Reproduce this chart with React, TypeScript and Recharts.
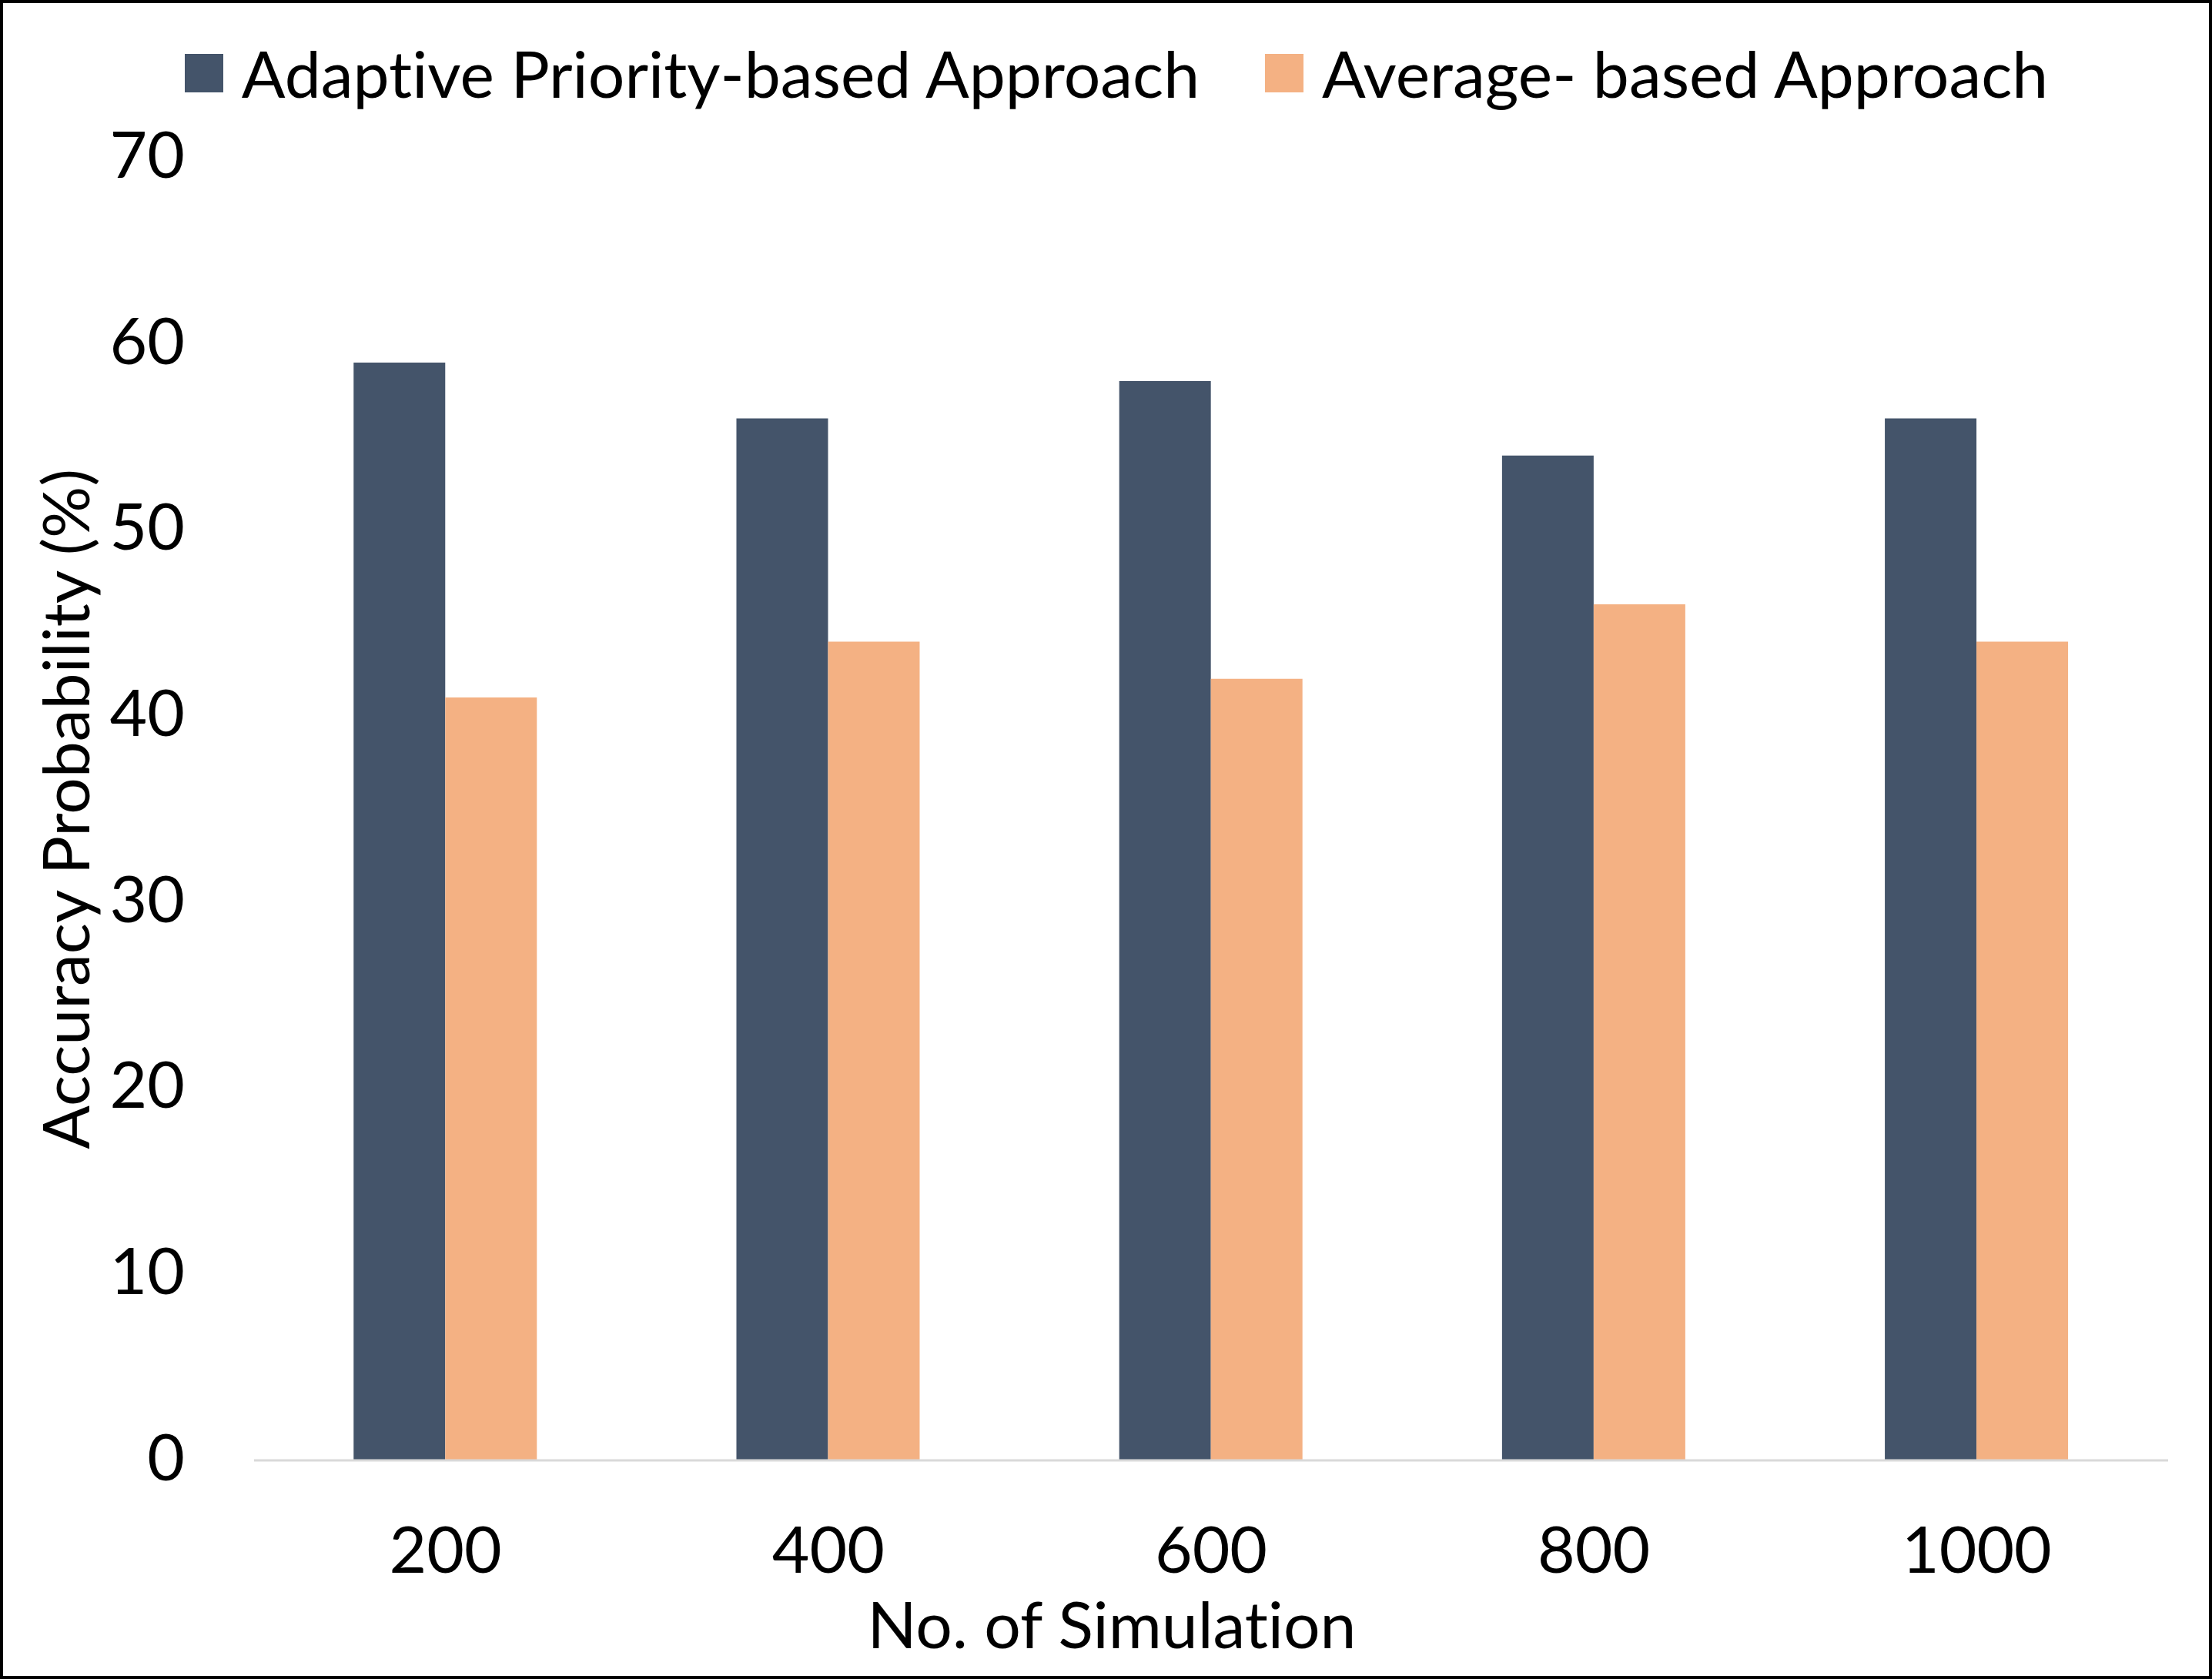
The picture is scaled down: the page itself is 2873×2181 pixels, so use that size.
import { BarChart, Bar, XAxis, YAxis, Legend } from "recharts"

const simulations = ["200", "400", "600", "800", "1000"]
const adaptiveValues = [59, 56, 58, 54, 56]
const averageValues = [41, 44, 42, 46, 44]
const yTicks = [0, 10, 20, 30, 40, 50, 60, 70]

const SERIES = [
  { key: "adaptive", name: "Adaptive Priority-based Approach", color: "#44546A" },
  { key: "average", name: "Average- based Approach", color: "#F4B183" },
]

const FONT = "Lato, 'Open Sans', sans-serif"
const FONT_SIZE = 84

const data = simulations.map((sim, i) => ({
  sim,
  adaptive: adaptiveValues[i],
  average: averageValues[i],
}))

function LegendContent() {
  return (
    <div
      style={{
        height: 190,
        display: "flex",
        alignItems: "center",
        justifyContent: "center",
        gap: 85,
        fontFamily: FONT,
        fontSize: FONT_SIZE,
        fontVariantLigatures: "none",
        color: "#000",
        paddingLeft: 27,
        boxSizing: "border-box",
      }}
    >
      {SERIES.map((s) => (
        <div key={s.key} style={{ display: "flex", alignItems: "center", gap: 24 }}>
          <span style={{ display: "inline-block", width: 50, height: 50, background: s.color }} />
          <span style={{ lineHeight: 1 }}>{s.name}</span>
        </div>
      ))}
    </div>
  )
}

export default function App() {
  return (
    <div
      style={{
        width: 2873,
        height: 2181,
        position: "relative",
        background: "#fff",
        outline: "4px solid #000",
        outlineOffset: -4,
        fontVariantLigatures: "none",
      }}
    >
      <style>{`body{margin:0;overflow:hidden} svg text{font-variant-ligatures:none}`}</style>
      <BarChart
        width={2873}
        height={2181}
        data={data}
        margin={{ top: 15, right: 57, bottom: 0, left: 0 }}
        barCategoryGap="26%"
        barGap={0}
      >
        <Legend
          verticalAlign="top"
          align="center"
          content={<LegendContent />}
          wrapperStyle={{ top: 0, left: 0, width: 2873 }}
        />
        <XAxis
          dataKey="sim"
          height={284}
          stroke="#D9D9D9"
          strokeWidth={3}
          tickLine={false}
          tickMargin={80}
          tick={{ fill: "#000", fontSize: FONT_SIZE, fontFamily: FONT }}
          label={{
            value: "No. of Simulation",
            position: "insideBottom",
            offset: 40,
            dx: -129,
            fill: "#000",
            fontSize: FONT_SIZE,
            fontFamily: FONT,
          }}
        />
        <YAxis
          width={330}
          domain={[0, 70]}
          ticks={yTicks}
          axisLine={false}
          tickLine={false}
          tickMargin={84}
          tick={{ fill: "#000", fontSize: FONT_SIZE, fontFamily: FONT, dy: -4 }}
          label={{
            value: "Accuracy Probability (%)",
            angle: -90,
            position: "insideLeft",
            offset: 86,
            textAnchor: "middle",
            fill: "#000",
            fontSize: FONT_SIZE,
            fontFamily: FONT,
          }}
        />
        {SERIES.map((s) => (
          <Bar key={s.key} dataKey={s.key} name={s.name} fill={s.color} isAnimationActive={false} />
        ))}
      </BarChart>
    </div>
  )
}
